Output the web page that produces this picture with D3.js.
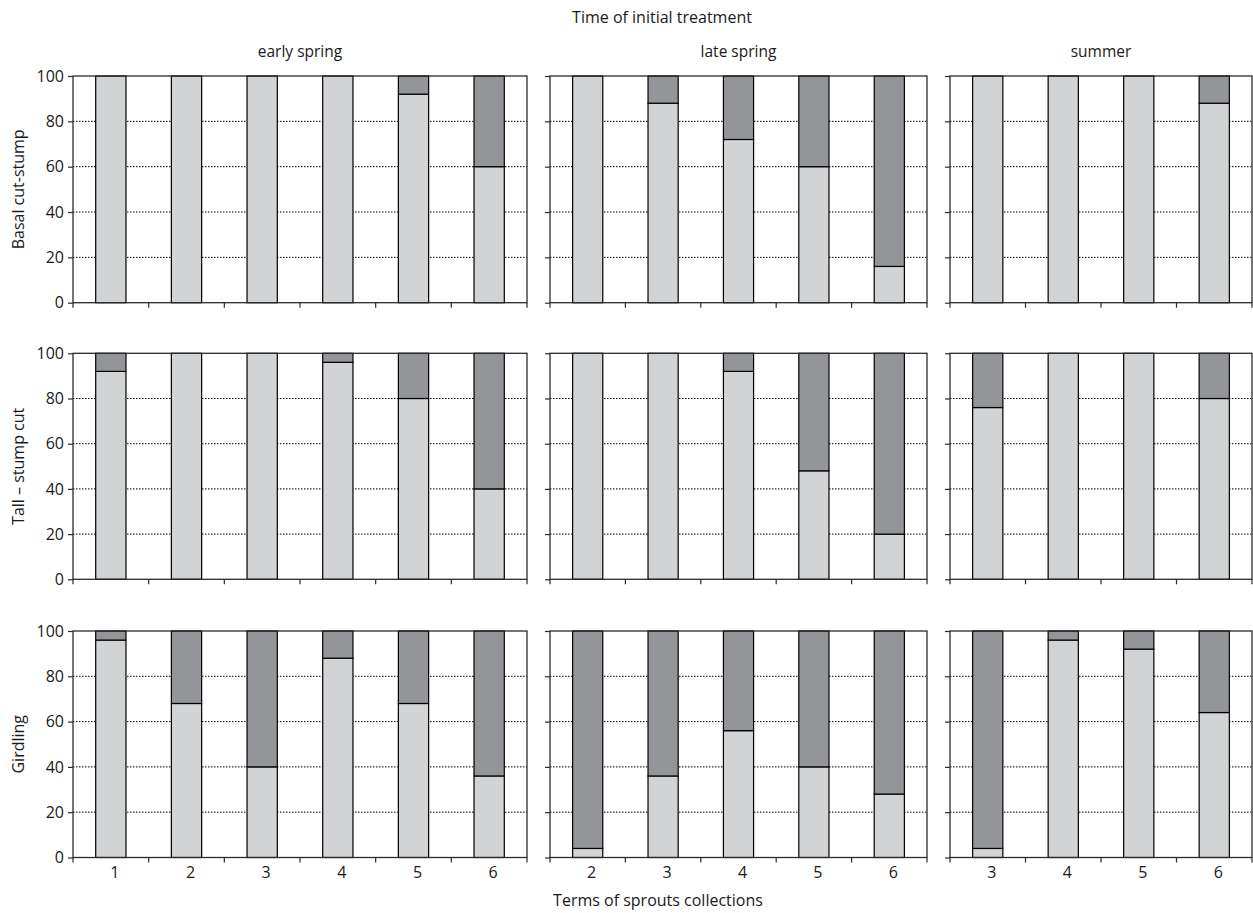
<!DOCTYPE html>
<html>
<head>
<meta charset="utf-8">
<script src="https://cdn.jsdelivr.net/npm/d3@7"></script>
<style>
  html, body { margin: 0; padding: 0; background: #fff; }
  svg text { font-family: "Open Sans", "Noto Sans", sans-serif; fill: #1a1a1a; }
</style>
</head>
<body>
<svg id="chart" width="1253" height="913"></svg>
<script>
// ---- data ----
const rowLabels = ["Basal cut-stump", "Tall \u2013 stump cut", "Girdling"];
const colLabels = ["early spring", "late spring", "summer"];
const termsEarly = [1, 2, 3, 4, 5, 6];
const termsLate = [2, 3, 4, 5, 6];
const termsSummer = [3, 4, 5, 6];
// light (lower) portion in % ; dark portion = 100 - value
const basalEarly = [100, 100, 100, 100, 92, 60];
const basalLate = [100, 88, 72, 60, 16];
const basalSummer = [100, 100, 100, 88];
const tallEarly = [92, 100, 100, 96, 80, 40];
const tallLate = [100, 100, 92, 48, 20];
const tallSummer = [76, 100, 100, 80];
const girdEarly = [96, 68, 40, 88, 68, 36];
const girdLate = [4, 36, 56, 40, 28];
const girdSummer = [4, 96, 92, 64];
const yTicks = [0, 20, 40, 60, 80, 100];
const titleText = "Time of initial treatment";
const xTitleText = "Terms of sprouts collections";

const termsByCol = [termsEarly, termsLate, termsSummer];
const valuesGrid = [
  [basalEarly, basalLate, basalSummer],
  [tallEarly, tallLate, tallSummer],
  [girdEarly, girdLate, girdSummer]
];

// ---- layout ----
const colX = [[73, 527], [550, 927], [950, 1252]];
const rowY = [[76, 302.7], [353.3, 579.3], [631, 857.5]];
const lightFill = "#d1d3d4", darkFill = "#939598";
const frameColor = "#2b2b2b";

const svg = d3.select("#chart");

svg.append("text").attr("x", 662).attr("y", 23).attr("text-anchor", "middle")
  .attr("font-size", 16).text(titleText);
svg.append("text").attr("x", 658).attr("y", 906).attr("text-anchor", "middle")
  .attr("font-size", 16).text(xTitleText);

colLabels.forEach((c, ci) => {
  svg.append("text").attr("x", (colX[ci][0] + colX[ci][1]) / 2).attr("y", 57)
    .attr("text-anchor", "middle").attr("font-size", 15.5).text(c);
});
rowLabels.forEach((r, ri) => {
  const cy = (rowY[ri][0] + rowY[ri][1]) / 2;
  svg.append("text").attr("transform", `translate(24,${cy}) rotate(-90)`)
    .attr("text-anchor", "middle").attr("font-size", 16).text(r);
});

rowY.forEach((ry, ri) => {
  colX.forEach((cx, ci) => {
    const terms = termsByCol[ci];
    const vals = valuesGrid[ri][ci];
    const x = d3.scaleBand().domain(terms).range(cx).paddingInner(0.6).paddingOuter(0.3);
    const y = d3.scaleLinear().domain([0, 100]).range([ry[1], ry[0]]);
    const g = svg.append("g");

    // gridlines
    g.selectAll("line.grid").data(yTicks.filter(t => t > 0 && t < 100)).join("line")
      .attr("x1", cx[0]).attr("x2", cx[1])
      .attr("y1", d => y(d)).attr("y2", d => y(d))
      .attr("stroke", "#000").attr("stroke-width", 1).attr("stroke-dasharray", "1.5,1.5");

    // y axis
    const ya = d3.axisLeft(y).tickValues(yTicks).tickSize(5).tickPadding(4);
    if (ci > 0) ya.tickFormat("");
    const yg = g.append("g").attr("transform", `translate(${cx[0]},0)`).call(ya);
    yg.select(".domain").remove();
    yg.selectAll(".tick line").attr("stroke", frameColor).attr("stroke-width", 1.2);
    yg.selectAll(".tick text").attr("font-size", 16).attr("font-family", "Open Sans").attr("fill", "#1a1a1a");

    // bars
    const step = x.step();
    terms.forEach((t, i) => {
      const v = vals[i];
      g.append("rect").attr("x", x(t)).attr("width", x.bandwidth())
        .attr("y", y(v)).attr("height", y(0) - y(v))
        .attr("fill", lightFill).attr("stroke", "#000").attr("stroke-width", 1.2);
      if (v < 100) {
        g.append("rect").attr("x", x(t)).attr("width", x.bandwidth())
          .attr("y", y(100)).attr("height", y(v) - y(100))
          .attr("fill", darkFill).attr("stroke", "#000").attr("stroke-width", 1.2);
      }
    });

    // frame
    g.append("rect").attr("x", cx[0]).attr("y", ry[0])
      .attr("width", cx[1] - cx[0]).attr("height", ry[1] - ry[0])
      .attr("fill", "none").attr("stroke", frameColor).attr("stroke-width", 1.3);

    // x ticks at band boundaries
    const bounds = d3.range(terms.length + 1).map(i => cx[0] + i * step);
    g.selectAll("line.xt").data(bounds).join("line")
      .attr("x1", d => d).attr("x2", d => d)
      .attr("y1", ry[1]).attr("y2", ry[1] + 5)
      .attr("stroke", frameColor).attr("stroke-width", 1.2);

    // x labels (bottom row only)
    if (ri === rowY.length - 1) {
      const xa = d3.axisBottom(x).tickSize(0).tickPadding(9);
      const xg = g.append("g").attr("transform", `translate(0,${ry[1]})`).call(xa);
      xg.select(".domain").remove();
      xg.selectAll(".tick text").attr("font-size", 16).attr("font-family", "Open Sans")
        .attr("fill", "#1a1a1a").attr("dx", 4);
    }
  });
});
</script>
</body>
</html>
